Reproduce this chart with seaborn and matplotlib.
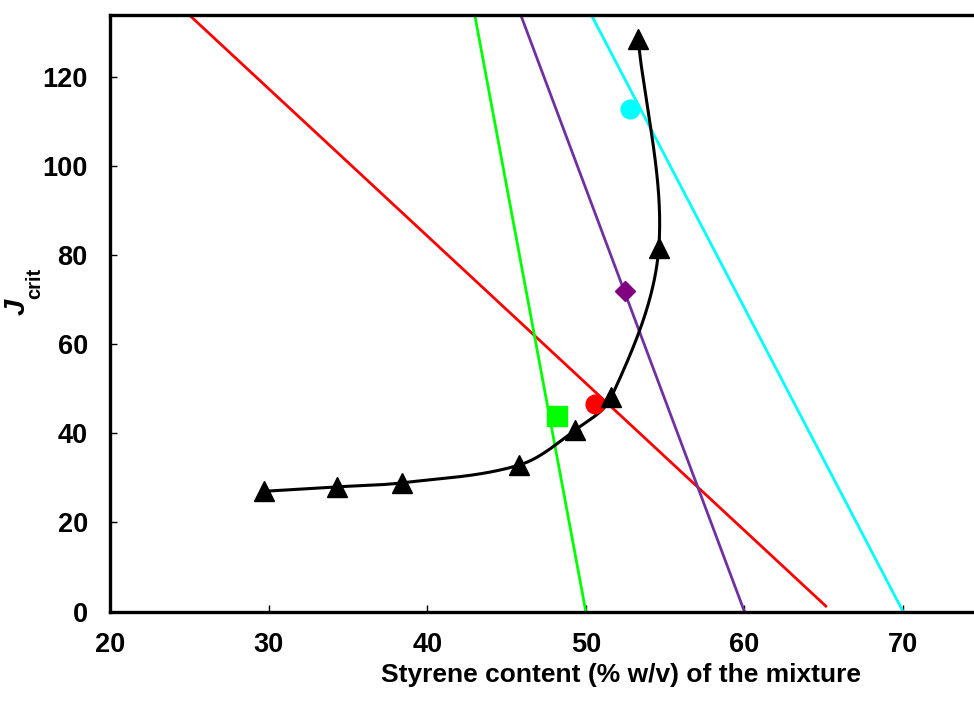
import numpy as np
import pandas as pd
import matplotlib
matplotlib.use("Agg")
import matplotlib.pyplot as plt
import seaborn as sns

# ---- data ----
tri_x = [29.7, 34.3, 38.4, 45.8, 49.3, 51.6, 54.6, 53.3]
tri_y = [27.0, 28.0, 28.9, 32.9, 40.7, 48.1, 81.6, 128.6]

cyan_pt_x, cyan_pt_y = [52.8], [112.9]
purple_pt_x, purple_pt_y = [52.5], [71.9]
red_pt_x, red_pt_y = [50.6], [46.7]
green_pt_x, green_pt_y = [48.2], [43.9]

red_line_x, red_line_y = [25.0, 65.2], [134.0, 1.0]
green_line_x, green_line_y = [43.0, 50.0], [134.0, 0.0]
purple_line_x, purple_line_y = [45.9, 60.0], [134.0, 0.0]
cyan_line_x, cyan_line_y = [50.35, 70.0], [134.0, 0.0]

x_ticks = [20, 30, 40, 50, 60, 70]
y_ticks = [0, 20, 40, 60, 80, 100, 120]

sns.set_style("ticks")
plt.rcParams["font.family"] = ["Liberation Sans", "DejaVu Sans"]
plt.rcParams["font.weight"] = "bold"
plt.rcParams["text.color"] = "black"
plt.rcParams["axes.labelcolor"] = "black"

W, H = 974, 702
fig = plt.figure(figsize=(W / 100, H / 100), dpi=100)
XMIN, XMAX, YMIN, YMAX = 20, 80, 0, 134
px_per_x = 15.86
px_per_y = 4.44
left_px, bottom_px, top_px = 110, 611.5, 15
ax = fig.add_axes([left_px / W, (H - bottom_px) / H,
                   (XMAX - XMIN) * px_per_x / W, (bottom_px - top_px) / H])
ax.set_xlim(XMIN, XMAX)
ax.set_ylim(YMIN, YMAX)


def smooth(xs, ys, n=40):
    # smoothed line through the markers: cubic Bezier pieces whose
    # control points follow the Catmull-Rom tangent direction, scaled by
    # the segment length (screen-proportional units).
    P = np.column_stack([np.array(xs) * px_per_x, np.array(ys) * px_per_y])
    m = len(P)

    def unit(v):
        return v / np.linalg.norm(v)

    tang = []
    for i in range(m):
        a = P[i - 1] if i > 0 else P[i]
        b = P[i + 1] if i + 1 < m else P[i]
        tang.append(unit(b - a))
    out = []
    for i in range(m - 1):
        p1, p2 = P[i], P[i + 1]
        d = np.linalg.norm(p2 - p1) / 3.0
        c1 = p1 + tang[i] * d
        c2 = p2 - tang[i + 1] * d
        t = np.linspace(0, 1, n)[:, None]
        seg = ((1 - t) ** 3) * p1 + 3 * ((1 - t) ** 2) * t * c1 + 3 * (1 - t) * t ** 2 * c2 + t ** 3 * p2
        out.append(seg if i == 0 else seg[1:])
    S = np.vstack(out)
    return S[:, 0] / px_per_x, S[:, 1] / px_per_y


lw = 2.0
for lx, ly, col in [(red_line_x, red_line_y, "#FF0000"),
                    (green_line_x, green_line_y, "#00FF00"),
                    (purple_line_x, purple_line_y, "#7030A0"),
                    (cyan_line_x, cyan_line_y, "#00FFFF")]:
    sns.lineplot(x=lx, y=ly, color=col, linewidth=lw, ax=ax, sort=False,
                 estimator=None, solid_capstyle="butt")

sx, sy = smooth(tri_x, tri_y)
sns.lineplot(x=sx, y=sy, color="black", linewidth=2.2, ax=ax, sort=False, estimator=None)

ax.plot(tri_x, tri_y, linestyle="none", marker="^", markersize=14,
        color="black", zorder=5)
ax.plot(cyan_pt_x, cyan_pt_y, linestyle="none", marker="o", markersize=13.5,
        color="#00FFFF", zorder=6)
ax.plot(red_pt_x, red_pt_y, linestyle="none", marker="o", markersize=13.5,
        color="#FF0000", zorder=4)
ax.plot(green_pt_x, green_pt_y, linestyle="none", marker="s", markersize=14,
        color="#00FF00", zorder=6)
ax.plot(purple_pt_x, purple_pt_y, linestyle="none", marker="D", markersize=10,
        color="#800080", zorder=6)

ax.set_xticks(x_ticks)
ax.set_yticks(y_ticks)
ax.set_xticklabels([str(v) for v in x_ticks])
ax.set_yticklabels([str(v) for v in y_ticks])
ax.tick_params(axis="x", direction="in", length=5, width=1, pad=15,
               labelsize=19.5, colors="black")
ax.tick_params(axis="y", direction="in", length=5, width=1, pad=16,
               labelsize=19.5, colors="black")
for t in ax.get_xticklabels() + ax.get_yticklabels():
    t.set_fontweight("bold")

for s in ["left", "bottom", "top", "right"]:
    ax.spines[s].set_linewidth(2.4)
    ax.spines[s].set_color("black")

ax.set_xlabel("")
ax.set_ylabel("")
fig.text(621 / W, 1 - 675 / H, "Styrene content (% w/v) of the mixture",
         ha="center", va="center", fontsize=19, fontweight="bold", color="black")
fig.text(17 / W, 1 - 307 / H, "J", rotation=90, ha="center", va="center",
         fontsize=21, fontweight="bold", fontstyle="italic", color="black")
fig.text(35 / W, 1 - 283 / H, "crit", rotation=90, ha="center", va="center",
         fontsize=14.5, fontweight="bold", color="black")

fig.savefig("out.png", dpi=100)
